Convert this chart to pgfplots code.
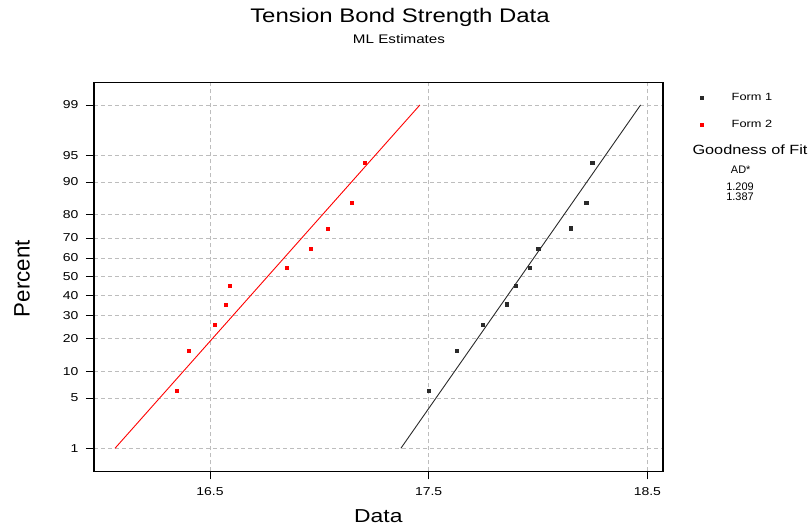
\documentclass[border=0pt]{standalone}
\usepackage{fontspec}
\setmainfont[FakeStretch=1.22]{Liberation Sans}
\newfontfamily\plainsans{Liberation Sans}
\usepackage{pgfplots}
\pgfplotsset{compat=1.18}
\usepackage{pgfplotstable}

\definecolor{gridgray}{HTML}{BDBDBD}
\definecolor{formone}{HTML}{2A2A2A}
\definecolor{formtwo}{HTML}{FF0000}

% z = normal score of the plotting position (i-0.375)/(n+0.25)
\pgfplotstableread{
x      z
17.500 -1.5466
17.629 -1.0005
17.748 -0.6554
17.858 -0.3755
17.898 -0.1226
17.962  0.1226
18.001  0.3755
18.149  0.6554
18.221  1.0005
18.248  1.5466
}\formone

\pgfplotstableread{
x      z
16.350 -1.5466
16.403 -1.0005
16.520 -0.6554
16.572 -0.3755
16.591 -0.1226
16.851  0.1226
16.960  0.3755
17.040  0.6554
17.149  1.0005
17.209  1.5466
}\formtwo

\begin{document}
\begin{tikzpicture}
\useasboundingbox (-94bp,-56.7bp) rectangle (717bp,471.3bp);
\begin{axis}[
  at={(0,0)}, anchor=south west,
  scale only axis,
  width=568.7bp, height=388.6bp,
  xmin=15.970, xmax=18.570,
  ymin=-2.638, ymax=2.628,
  xtick={16.5,17.5,18.5},
  xticklabels={16.5,17.5,18.5},
  ytick={-2.3263,-1.6449,-1.2816,-0.8416,-0.5244,-0.2533,0,0.2533,0.5244,0.8416,1.2816,1.6449,2.3263},
  yticklabels={1,5,10,20,30,40,50,60,70,80,90,95,99},
  /pgf/number format/assume math mode=true,
  tick pos=left,
  tick align=outside,
  major tick length=8bp,
  tick style={black, line width=0.8bp},
  axis line style={black, line width=1.6bp},
  grid=major,
  grid style={gridgray, line width=0.8bp, dash pattern=on 4bp off 3bp},
  tick label style={font=\fontsize{11.5}{13}\selectfont},
  xticklabel style={yshift=-5bp},
  yticklabel style={xshift=-4bp},
  xlabel={Data},
  ylabel={\plainsans Percent},
  xlabel style={font=\fontsize{18.8}{22}\selectfont, at={(axis description cs:0.5,-0.115)}, anchor=center},
  ylabel style={font=\fontsize{22.4}{26}\selectfont, at={(axis description cs:-0.1266,0.496)}, anchor=center},
  legend image code/.code={
    \path[draw=none, fill=none] (0bp,-3bp) rectangle (16bp,3bp);
    \draw[mark repeat=2, mark phase=2, #1] plot coordinates {(0bp,0bp) (8bp,0bp) (16bp,0bp)};
  },
  legend style={draw=none, fill=none, at={(1.0542,0.9785)}, anchor=north west,
    font=\fontsize{10.5}{12}\selectfont, row sep=14bp, column sep=20bp, inner sep=0pt},
  legend cell align=left,
  clip=false,
]
\addplot[only marks, mark=square*, mark size=1.7bp, color=formone] table[x=x, y=z] {\formone};
\addlegendentry{Form 1}
\addplot[only marks, mark=square*, mark size=1.5bp, color=formtwo] table[x=x, y=z] {\formtwo};
\addlegendentry{Form 2}
\addplot[formone, line width=0.9bp, forget plot] coordinates {(17.373,-2.3263) (18.469,2.3263)};
\addplot[formtwo, line width=0.9bp, forget plot] coordinates {(16.066,-2.3263) (17.460,2.3263)};
\end{axis}
\node[font=\fontsize{19.7}{23}\selectfont] at (306bp,454.3bp) {Tension Bond Strength Data};
\node[font=\fontsize{12.5}{15}\selectfont] at (305bp,432.3bp) {ML Estimates};
\node[font=\fontsize{13.4}{16}\selectfont] at (656bp,322bp) {Goodness of Fit};
\node[font=\plainsans\fontsize{11}{13}\selectfont] at (646.7bp,302bp) {AD*};
\node[font=\plainsans\fontsize{11}{13}\selectfont] at (646bp,284.5bp) {1.209};
\node[font=\plainsans\fontsize{11}{13}\selectfont] at (646bp,275bp) {1.387};
\end{tikzpicture}
\end{document}
